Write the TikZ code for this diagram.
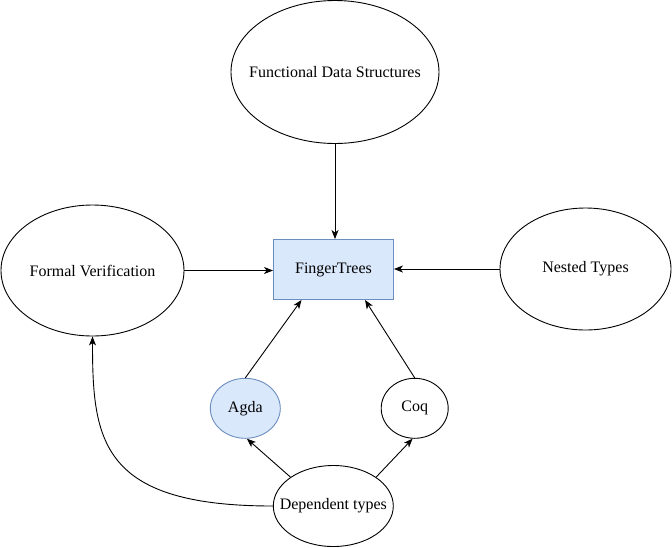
\documentclass[tikz,border=0pt]{standalone}
\usepackage{fontspec}
\setmainfont{Liberation Serif}
\usetikzlibrary{shapes.geometric,arrows.meta}
\definecolor{bluefill}{HTML}{DAE8FC}
\definecolor{bluestroke}{HTML}{6C8EBF}
\begin{document}
\begin{tikzpicture}[x=1pt,y=-1pt,
  txt/.style={font=\fontsize{16}{19}\selectfont},
  ell/.style={ellipse, draw=black, line width=0.9pt, inner sep=0pt, fill=white},
  bluebox/.style={draw=bluestroke, fill=bluefill, line width=0.9pt},
  arr/.style={-{Stealth[length=9pt,width=7pt,inset=2.5pt]}, line width=0.9pt, draw=black}]
\useasboundingbox (0,0) rectangle (672,547);
\node[ell, minimum width=208pt, minimum height=143pt, label={[txt]center:Functional Data Structures}] (fds) at (335,72) {};
\node[ell, minimum width=183pt, minimum height=131pt, label={[txt]center:Formal Verification}] (fv) at (92.5,270.5) {};
\node[ell, minimum width=171pt, minimum height=122pt, label={[txt]center:Nested Types}] (ns) at (585.5,269) {};
\node[bluebox, rectangle, minimum width=120pt, minimum height=60pt, inner sep=0pt, txt] (ft) at (333.5,269.5) {FingerTrees};
\node[ell, bluebox, minimum width=70pt, minimum height=60pt, label={[txt]center:Agda}] (agda) at (245.3,408.3) {};
\node[ell, minimum width=67pt, minimum height=60pt, label={[txt]center:Coq}] (coq) at (414.7,408.3) {};
\node[ell, minimum width=120pt, minimum height=81pt, label={[txt]center:Dependent types}] (dt) at (333.3,506) {};
\draw[arr] (fds.south) -- (fds.south |- ft.north);
\draw[arr] (fv.east) -- (fv.east -| ft.west);
\draw[arr] (ns.west) -- (ns.west -| ft.east);
\draw[arr] (agda.north) -- ([xshift=-32pt]ft.south);
\draw[arr] (coq.north) -- ([xshift=31.5pt]ft.south);
\draw[arr] (dt.146) -- (agda.-87);
\draw[arr] (dt.34) -- (coq.-94);
\draw[arr] (dt.west) .. controls (100,506) and (92.5,440) .. (fv.south);
\end{tikzpicture}
\end{document}
